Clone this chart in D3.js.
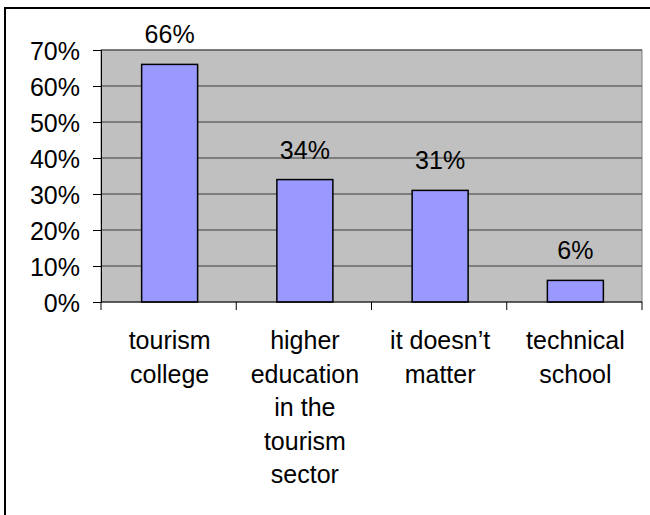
<!DOCTYPE html>
<html>
<head>
<meta charset="utf-8">
<script src="https://cdn.jsdelivr.net/npm/d3@7"></script>
<style>
  html, body { margin: 0; padding: 0; background: #fff; }
  svg { display: block; font-family: Arial, "Liberation Sans", sans-serif; }
</style>
</head>
<body>
<svg id="chart" width="650" height="515"></svg>
<script>
// Preferred type of school (share of respondents)
const categories = [
  ["tourism", "college"],
  ["higher", "education", "in the", "tourism", "sector"],
  ["it doesn\u2019t", "matter"],
  ["technical", "school"]
];
const values = [0.66, 0.34, 0.31, 0.06];
const yTicks = [0, 0.1, 0.2, 0.3, 0.4, 0.5, 0.6, 0.7];

const svg = d3.select("#chart");
const plot = { left: 101, right: 642, top: 50, bottom: 302 };
const fontSize = 25;

// outer frame
svg.append("rect")
  .attr("x", 5).attr("y", 8)
  .attr("width", 700).attr("height", 600)
  .attr("fill", "#fff")
  .attr("stroke", "#000").attr("stroke-width", 2);

const keys = categories.map((c, i) => i);
const x = d3.scaleBand().domain(keys).range([plot.left, plot.right]).padding(0);
const y = d3.scaleLinear().domain([0, 0.7]).range([plot.bottom, plot.top]);
const barW = x.bandwidth() * 0.414;

// plot area
svg.append("rect")
  .attr("x", plot.left).attr("y", plot.top)
  .attr("width", plot.right - plot.left).attr("height", plot.bottom - plot.top)
  .attr("fill", "#c0c0c0")
  .attr("stroke", "#808080").attr("stroke-width", 1);

// gridlines
svg.append("g")
  .selectAll("line")
  .data(yTicks.filter(t => t > 0))
  .join("line")
  .attr("x1", plot.left).attr("x2", plot.right)
  .attr("y1", d => y(d)).attr("y2", d => y(d))
  .attr("stroke", "#3a3a3a").attr("stroke-width", 1);

// bars
svg.append("g")
  .selectAll("rect")
  .data(values)
  .join("rect")
  .attr("x", (d, i) => x(i) + (x.bandwidth() - barW) / 2 + 1)
  .attr("y", d => y(d))
  .attr("width", barW)
  .attr("height", d => y(0) - y(d))
  .attr("fill", "#9999ff")
  .attr("stroke", "#000").attr("stroke-width", 1.5);

// value labels
svg.append("g")
  .selectAll("text")
  .data(values)
  .join("text")
  .attr("x", (d, i) => x(i) + x.bandwidth() / 2 + 1)
  .attr("y", d => y(d) - 21)
  .attr("text-anchor", "middle")
  .attr("font-size", fontSize)
  .attr("fill", "#000")
  .text(d => d3.format(".0%")(d));

// y axis
const yAxis = d3.axisLeft(y).tickValues(yTicks).tickFormat(d3.format(".0%")).tickSize(8).tickPadding(13);
const gy = svg.append("g").attr("transform", `translate(${plot.left},0)`).call(yAxis);
gy.select(".domain").attr("stroke", "#000");
gy.selectAll(".tick line").attr("stroke", "#000");
gy.selectAll(".tick text")
  .attr("font-size", fontSize)
  .attr("font-family", "Arial, 'Liberation Sans', sans-serif")
  .attr("fill", "#000")
  .attr("dy", "0.36em");

// x axis: baseline and category boundary ticks
svg.append("line")
  .attr("x1", plot.left).attr("x2", plot.right)
  .attr("y1", y(0)).attr("y2", y(0))
  .attr("stroke", "#000").attr("stroke-width", 1);
const bounds = keys.map(k => x(k)).concat([x(keys[keys.length - 1]) + x.bandwidth()]);
svg.append("g")
  .selectAll("line")
  .data(bounds)
  .join("line")
  .attr("x1", d => d).attr("x2", d => d)
  .attr("y1", y(0)).attr("y2", y(0) + 8)
  .attr("stroke", "#000").attr("stroke-width", 1);

// category labels
const cat = svg.append("g")
  .selectAll("text")
  .data(categories)
  .join("text")
  .attr("x", (d, i) => x(i) + x.bandwidth() / 2 + 1)
  .attr("y", 349)
  .attr("text-anchor", "middle")
  .attr("font-size", fontSize)
  .attr("fill", "#000");
cat.selectAll("tspan")
  .data(d => d)
  .join("tspan")
  .attr("x", function () { return this.parentNode.getAttribute("x"); })
  .attr("dy", (d, i) => i === 0 ? 0 : 33.5)
  .text(d => d);
</script>
</body>
</html>
